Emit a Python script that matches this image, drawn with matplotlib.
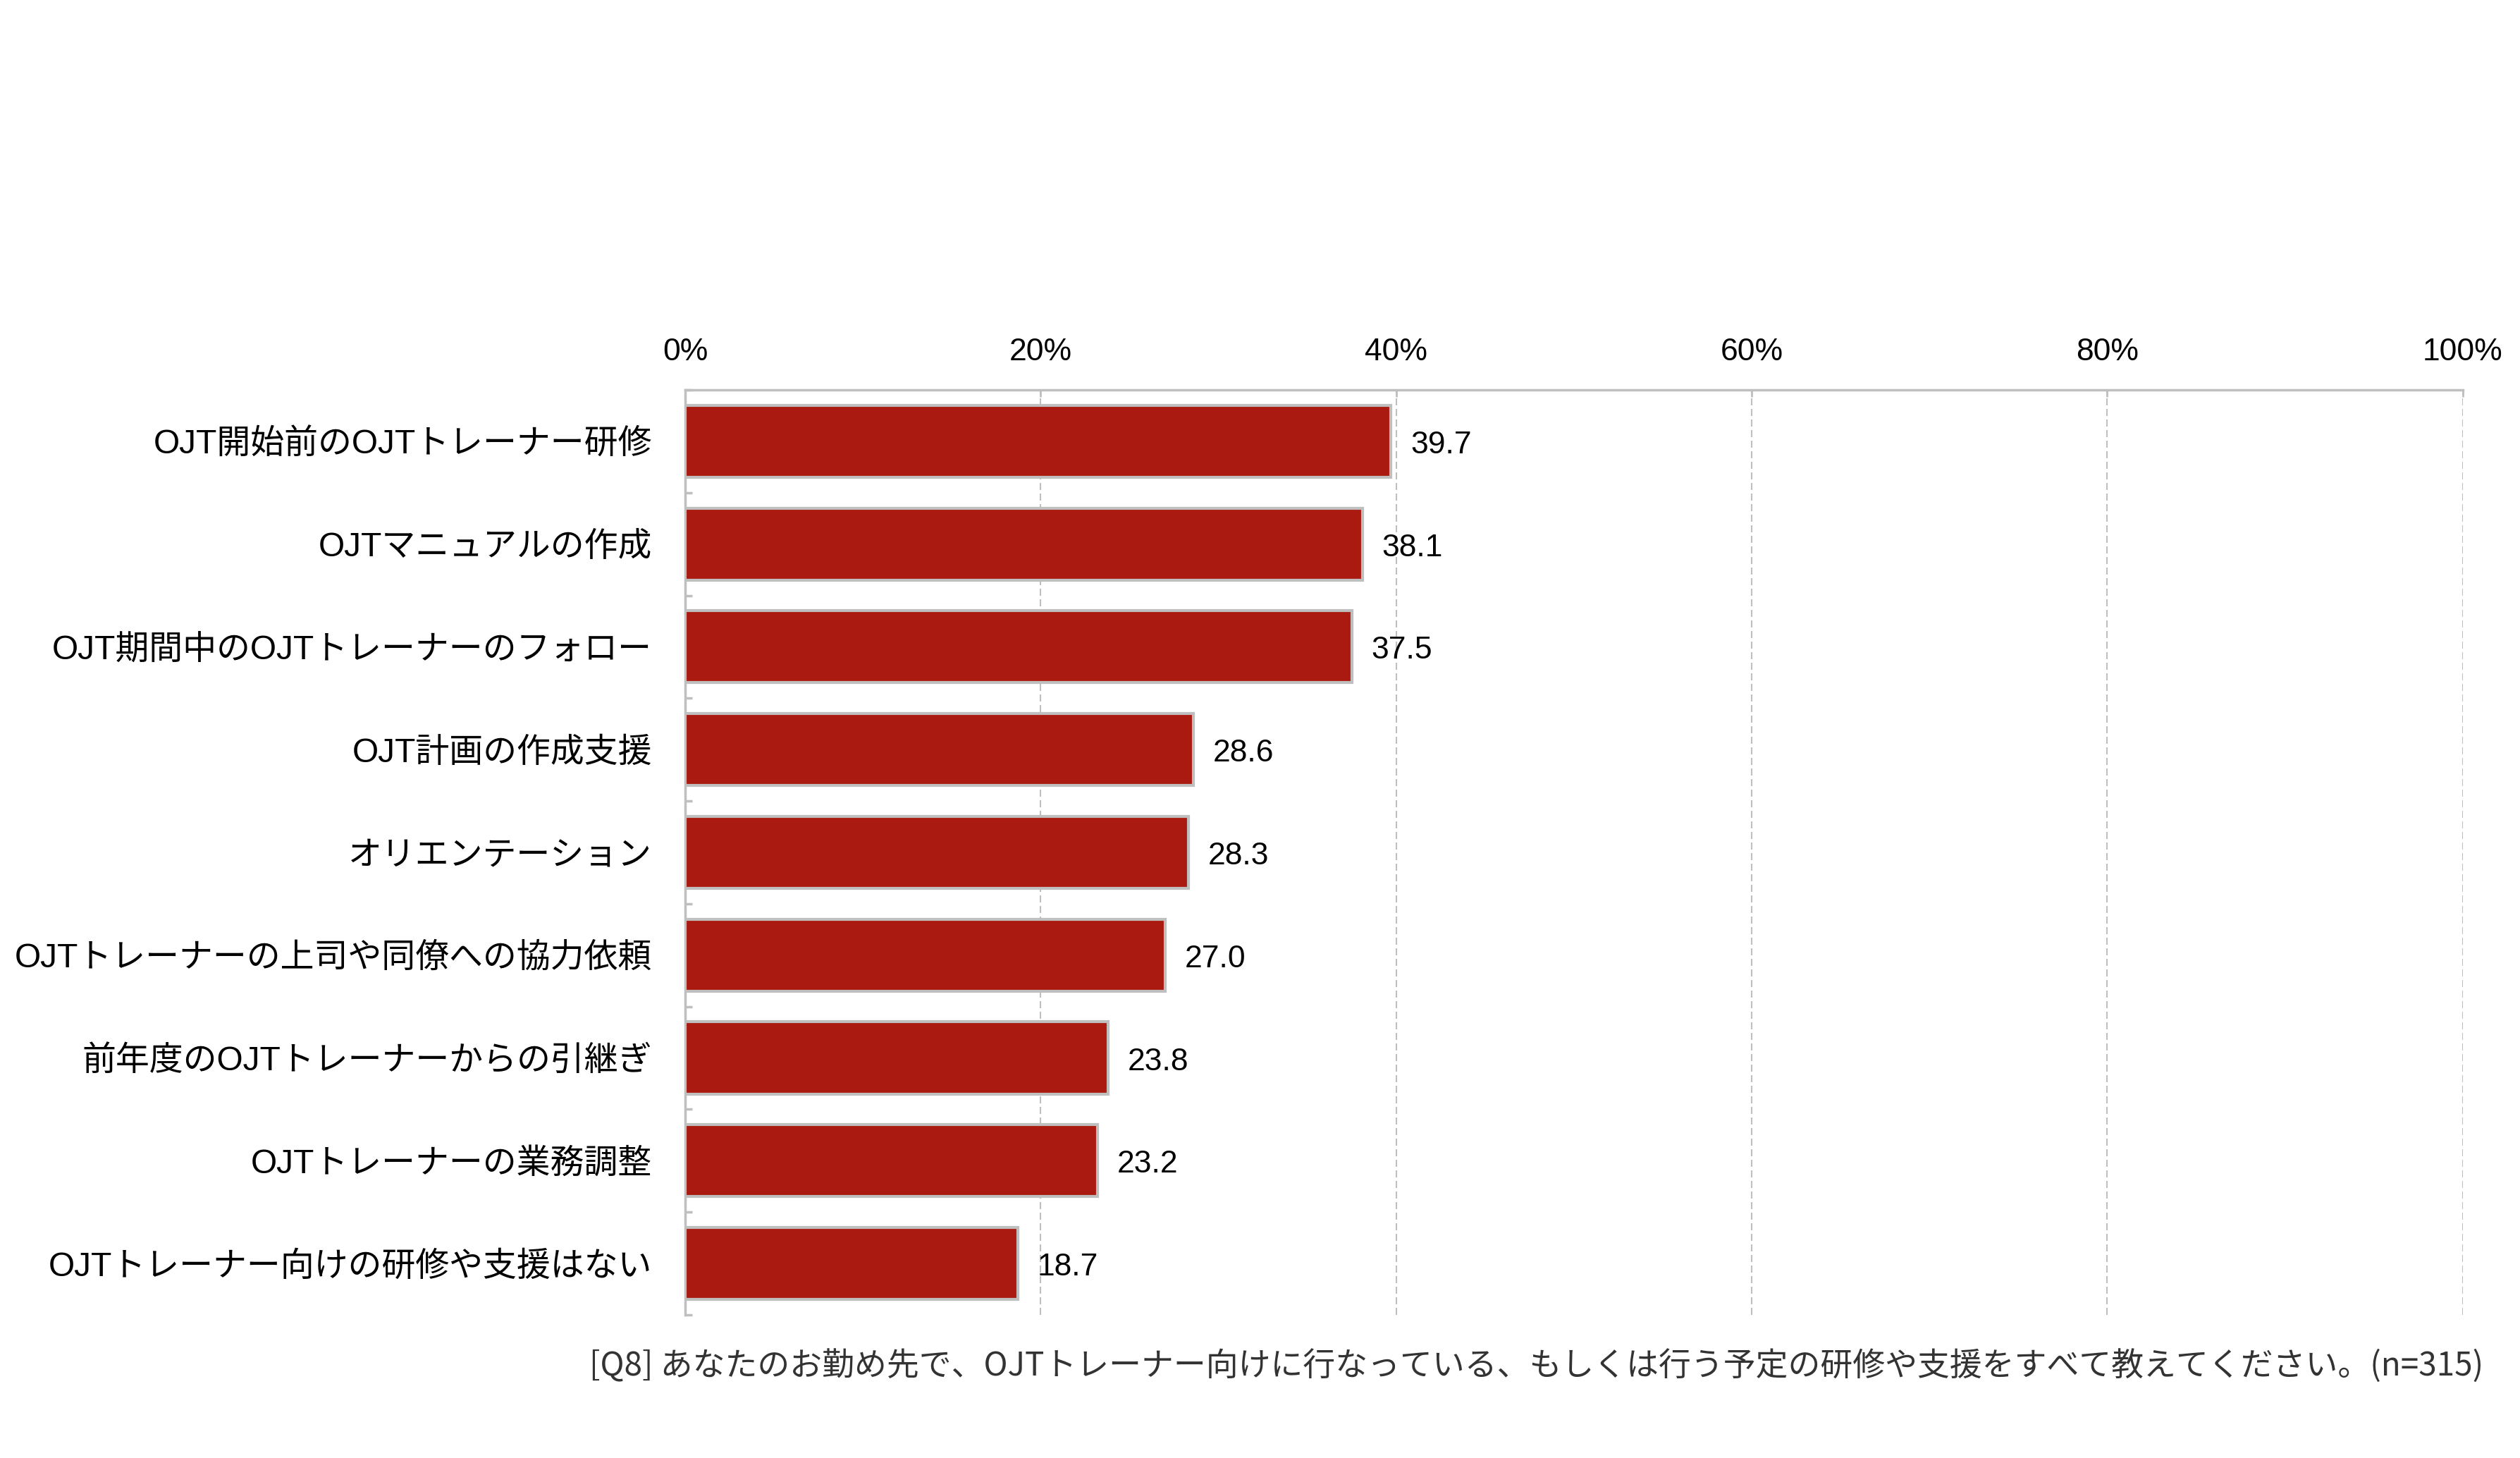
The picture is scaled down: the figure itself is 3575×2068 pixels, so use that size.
import matplotlib
matplotlib.use("Agg")
import matplotlib.pyplot as plt
from matplotlib.ticker import FixedLocator

# データ
categories = [
    "OJT開始前のOJTトレーナー研修",
    "OJTマニュアルの作成",
    "OJT期間中のOJTトレーナーのフォロー",
    "OJT計画の作成支援",
    "オリエンテーション",
    "OJTトレーナーの上司や同僚への協力依頼",
    "前年度のOJTトレーナーからの引継ぎ",
    "OJTトレーナーの業務調整",
    "OJTトレーナー向けの研修や支援はない",
]
values = [39.7, 38.1, 37.5, 28.6, 28.3, 27.0, 23.8, 23.2, 18.7]
x_ticks = [0, 20, 40, 60, 80, 100]
x_tick_labels = ["0%", "20%", "40%", "60%", "80%", "100%"]
note = "[Q8] あなたのお勤め先で、OJTトレーナー向けに行なっている、もしくは行う予定の研修や支援をすべて教えてください。(n=315)"

BAR = "#AB1A10"
GRAY = "#BFBFBF"
LATIN_JP = ["Liberation Sans", "Noto Sans CJK JP"]

plt.rcParams["font.family"] = LATIN_JP

fig = plt.figure(figsize=(35.75, 20.68), dpi=100)
ax = fig.add_axes([0.2719, 0.0982, 0.7054, 0.6344])

pos = list(range(len(categories)))
bars = ax.barh(pos, values, height=0.70, color=BAR, edgecolor=GRAY,
               linewidth=3, zorder=3)

ax.set_xlim(0, 100)
ax.set_ylim(len(categories) - 0.5, -0.5)

# x 軸（上側）
ax.xaxis.tick_top()
ax.set_xticks(x_ticks)
ax.set_xticklabels(x_tick_labels, fontsize=32, family="Liberation Sans")
ax.tick_params(axis="x", direction="in", length=7, width=2, color=GRAY, pad=24)
ax.xaxis.grid(True, color=GRAY, linewidth=1.5, linestyle=(0, (4.8, 2.4)), zorder=0)
ax.set_axisbelow(True)

# y 軸
ax.set_yticks(pos)
ax.set_yticklabels(categories, fontsize=34.5)
ax.tick_params(axis="y", length=0, pad=34)
ax.yaxis.set_minor_locator(FixedLocator([p - 0.5 for p in pos] + [pos[-1] + 0.5]))
ax.tick_params(axis="y", which="minor", direction="in", length=7, width=2.5, color=GRAY)

for side in ["right", "bottom"]:
    ax.spines[side].set_visible(False)
for side in ["top", "left"]:
    ax.spines[side].set_color(GRAY)
    ax.spines[side].set_linewidth(2.5)

# 数値ラベル
for p, v in zip(pos, values):
    ax.annotate(f"{v:.1f}", xy=(v, p), xytext=(20, -4), textcoords="offset points",
                ha="left", va="center", fontsize=32, family="Liberation Sans")

fig.text(0.9855, 0.063, note, ha="right", va="center", fontsize=33,
         color="#333333", family=["Noto Sans CJK JP", "DejaVu Sans"])

fig.savefig("out.png", dpi=100, facecolor="white")
